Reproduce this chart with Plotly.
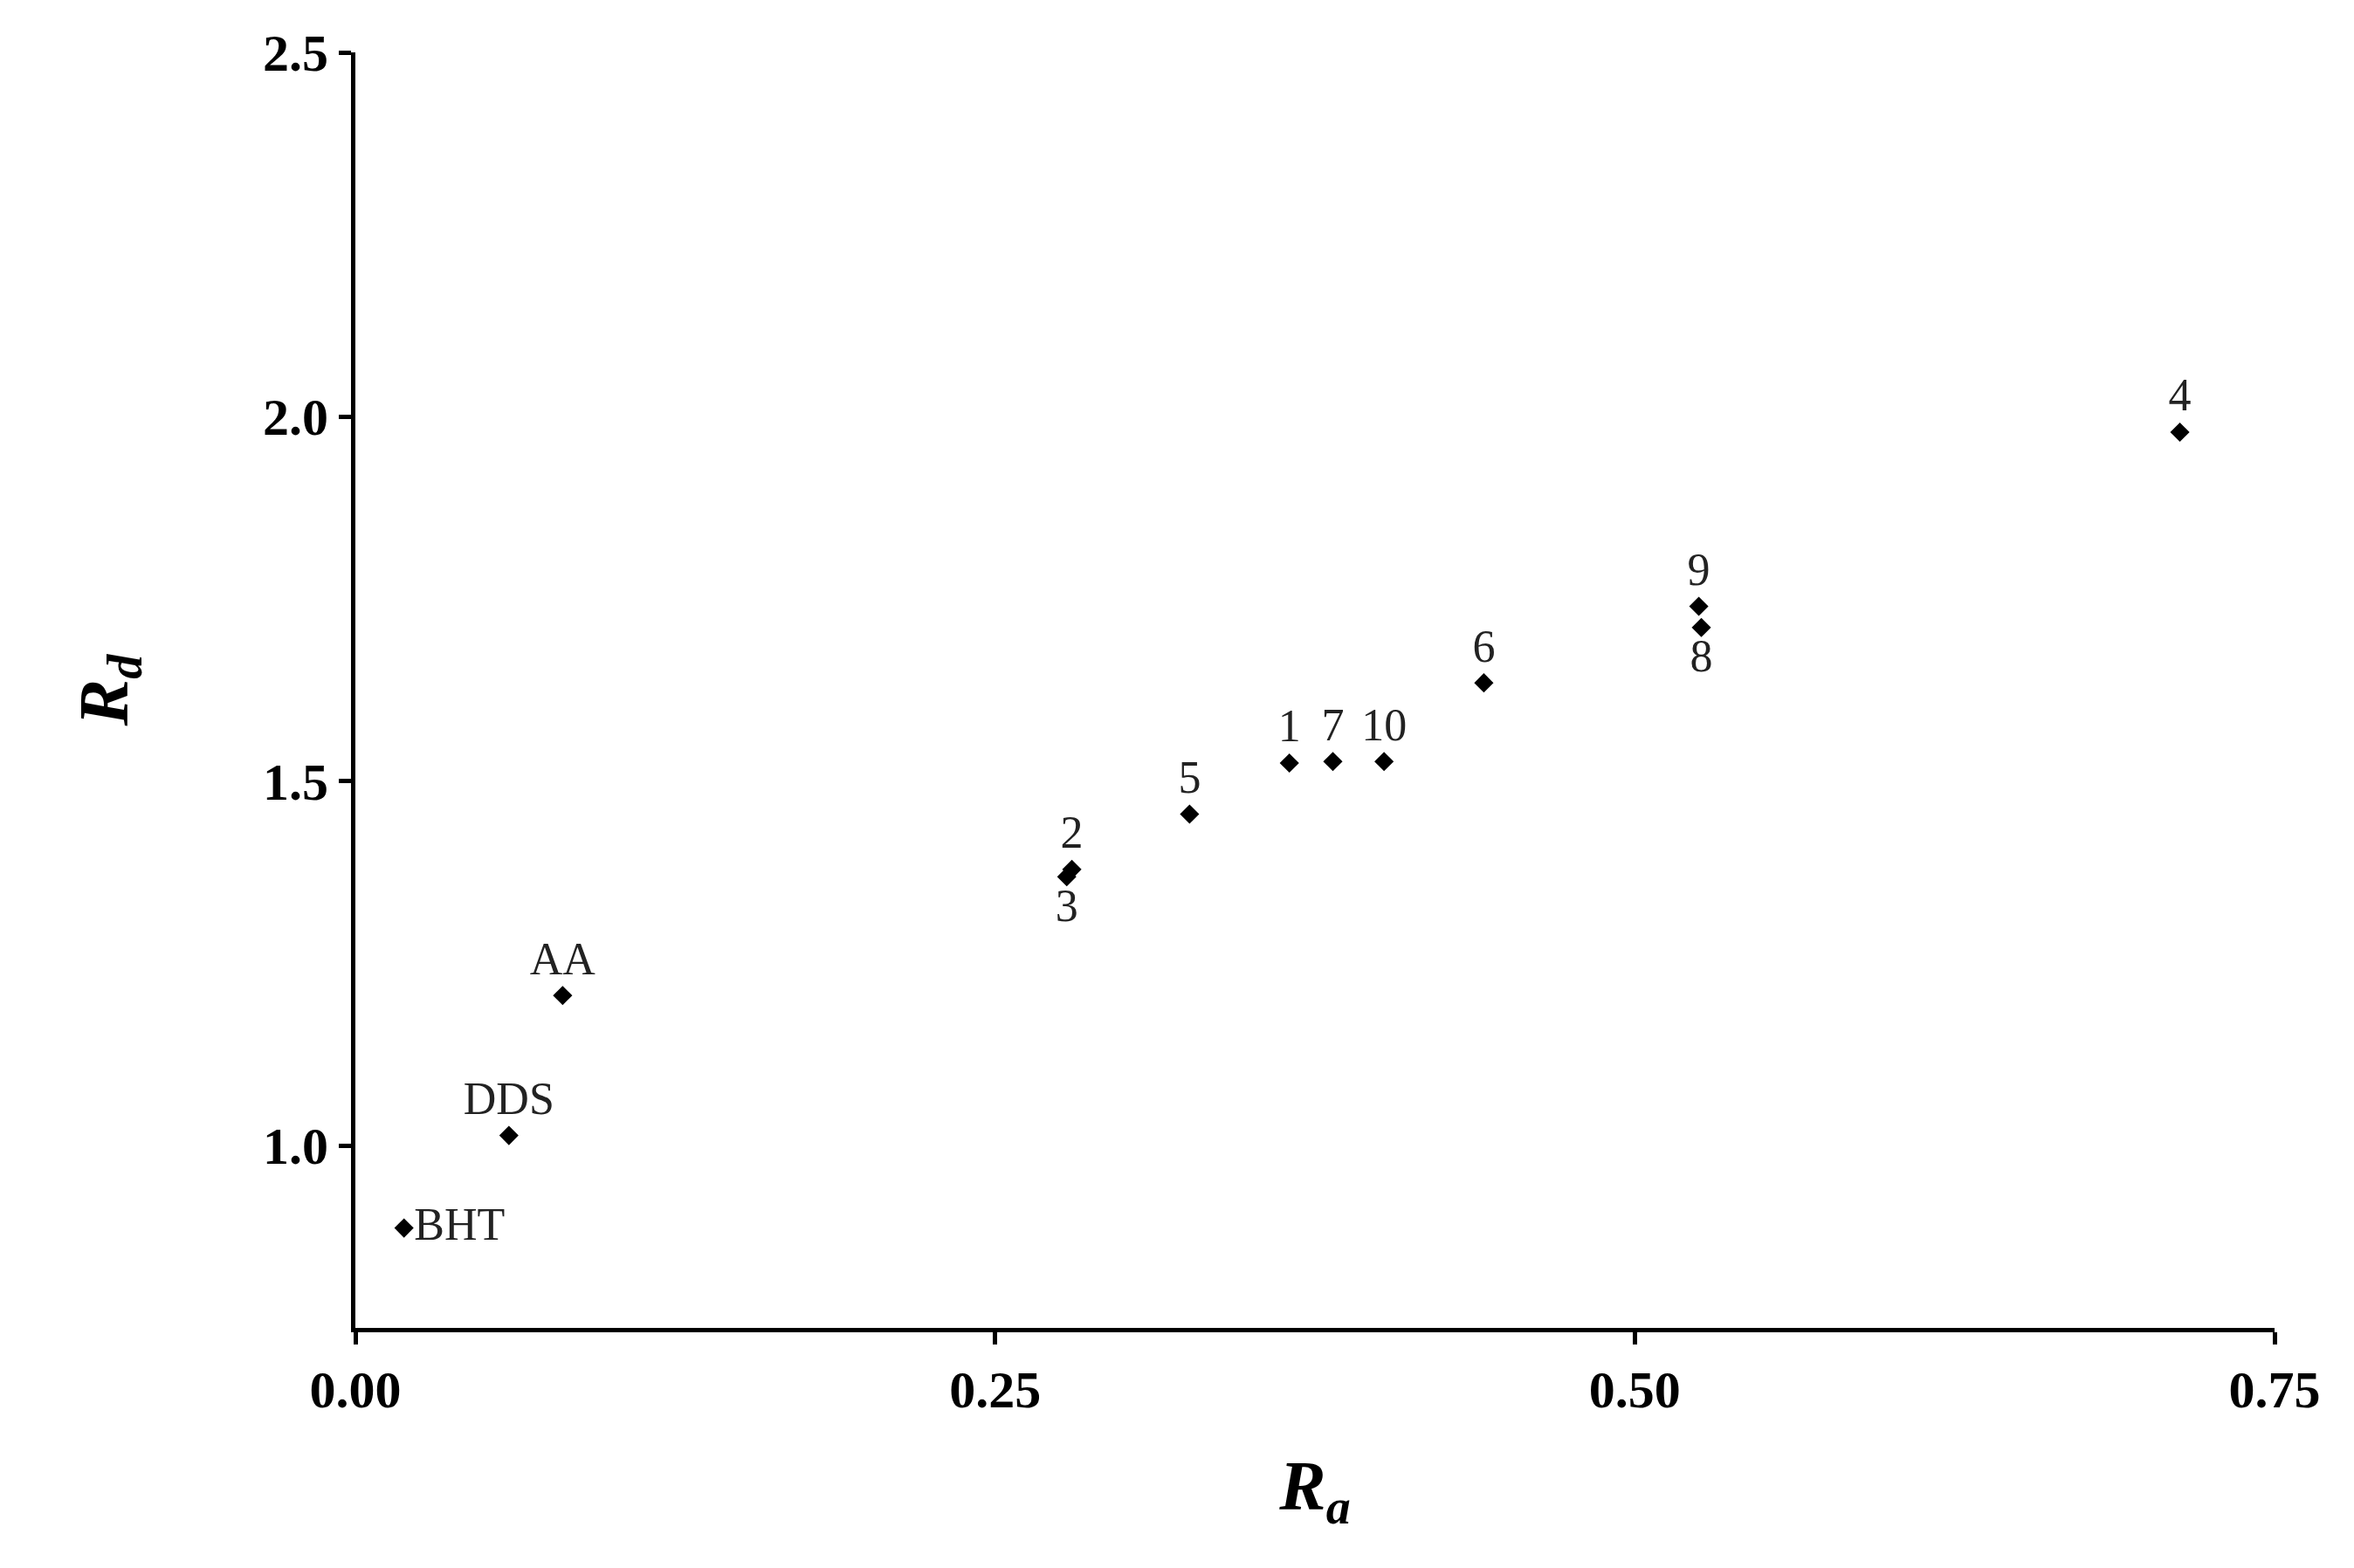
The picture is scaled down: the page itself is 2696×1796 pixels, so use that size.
import plotly.graph_objects as go

# compound labels and their (Ra, Rd) values
labels = ["BHT", "DDS", "AA", "2", "3", "5", "1", "7", "10", "6", "9", "8", "4"]
ra = [0.019, 0.060, 0.081, 0.280, 0.278, 0.326, 0.365, 0.382, 0.402, 0.441, 0.525, 0.526, 0.713]
rd = [0.887, 1.014, 1.206, 1.379, 1.369, 1.455, 1.525, 1.527, 1.527, 1.635, 1.740, 1.711, 1.979]
label_pos = ["middle right", "top center", "top center", "top center", "bottom center",
             "top center", "top center", "top center", "top center", "top center",
             "top center", "bottom center", "top center"]

serif = "Liberation Serif, DejaVu Serif, serif"

fig = go.Figure()
fig.add_trace(go.Scatter(
    x=ra, y=rd,
    mode="markers+text",
    marker=dict(symbol="diamond", size=17, color="black"),
    text=labels,
    textposition=label_pos,
    textfont=dict(family=serif, size=52, color="#222"),
    showlegend=False,
))

axis_common = dict(
    showgrid=False, zeroline=False,
    showline=True, linecolor="black", linewidth=5,
    ticks="outside", ticklen=14, tickwidth=5, tickcolor="black",
    tickfont=dict(family=serif, size=60, color="black", weight="bold"),
)

fig.update_layout(
    width=2696, height=1796,
    margin=dict(l=399, r=99, t=52, b=283),
    plot_bgcolor="white", paper_bgcolor="white",
    xaxis=dict(range=[0, 0.75], tickvals=[0, 0.25, 0.5, 0.75], tickformat=".2f",
               title=dict(text="<b><i>R<sub>a</sub></i></b>", standoff=50,
                          font=dict(family=serif, size=80, color="black")),
               **axis_common),
    yaxis=dict(range=[0.75, 2.5], tickvals=[1.0, 1.5, 2.0, 2.5], tickformat=".1f",
               title=dict(text="<b><i>R<sub>d</sub></i></b>", standoff=130,
                          font=dict(family=serif, size=80, color="black")),
               **axis_common),
)

fig.write_html("out.html")
